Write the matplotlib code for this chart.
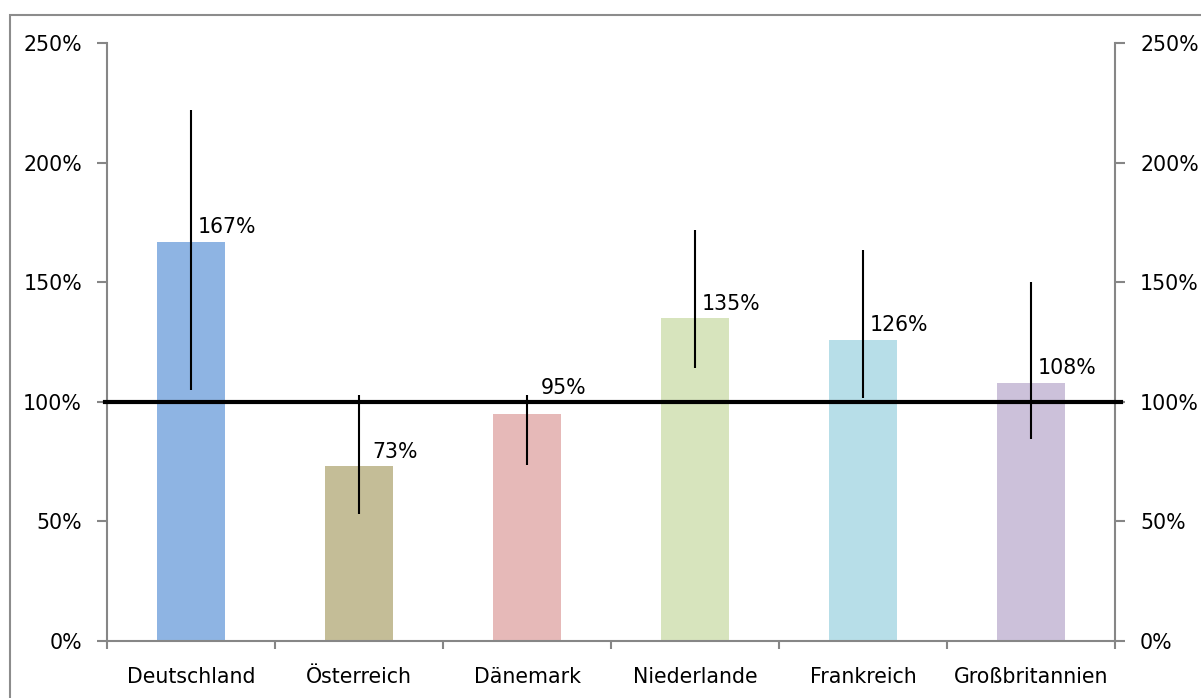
import matplotlib
matplotlib.use("Agg")
import matplotlib.pyplot as plt
from matplotlib.patches import Rectangle
from matplotlib.ticker import FixedLocator, PercentFormatter

# data
laender = ["Deutschland", "Österreich", "Dänemark", "Niederlande", "Frankreich", "Großbritannien"]
werte = [1.67, 0.73, 0.95, 1.35, 1.26, 1.08]
fehler_unten = [1.05, 0.53, 0.735, 1.14, 1.015, 0.843]
fehler_oben = [2.22, 1.03, 1.028, 1.718, 1.635, 1.502]
farben = ["#8EB4E3", "#C4BD97", "#E6B9B8", "#D7E4BD", "#B7DEE8", "#CCC1DA"]
y_ticks = [0, 0.5, 1.0, 1.5, 2.0, 2.5]
referenz = 1.0

plt.rcParams['font.family'] = ['DejaVu Sans']
grau = "#868686"
fs = 14.8

fig = plt.figure(figsize=(12.01, 6.98), dpi=100)
ax = fig.add_axes([0.0891, 0.0817, 0.8393, 0.8567])

x = list(range(len(laender)))
ax.bar(x, werte, width=0.41, color=farben, zorder=2)

# error bars (no caps)
err = [[w - lo for w, lo in zip(werte, fehler_unten)],
       [hi - w for w, hi in zip(werte, fehler_oben)]]
ax.errorbar(x, werte, yerr=err, fmt="none", ecolor="black", elinewidth=1.5, capsize=0, zorder=4)

# reference line at 100%
ax.axhline(referenz, xmin=-0.002, xmax=1.006, color="black", lw=3, clip_on=False, zorder=3)

# value labels - lifted above the 100% line when the bar ends just under it
for i, w in enumerate(werte):
    anker = referenz if (w < referenz and referenz - w < 0.1) else w
    ax.annotate(f"{w*100:.0f}%", xy=(i, anker), xytext=(26, 3), textcoords="offset points",
                ha="center", va="bottom", fontsize=fs, zorder=5)

ax.set_xlim(-0.5, len(laender) - 0.5)
ax.set_ylim(0, 2.5)
ax.set_yticks(y_ticks)
ax.yaxis.set_major_formatter(PercentFormatter(1.0, decimals=0))

ax.set_xticks(x)
ax.set_xticklabels(laender, fontsize=fs)
ax.xaxis.set_minor_locator(FixedLocator([i - 0.5 for i in range(len(laender) + 1)]))
ax.tick_params(axis="x", which="major", length=0, pad=19)
ax.tick_params(axis="x", which="minor", length=6, width=1.5, color=grau)
ax.tick_params(axis="y", length=7, width=1.5, color=grau, labelsize=fs, pad=11,
               right=True, labelright=True)

for side in ["left", "right", "bottom"]:
    ax.spines[side].set_color(grau)
    ax.spines[side].set_linewidth(1.5)
ax.spines["top"].set_visible(False)

# outer chart frame
fig.patches.append(Rectangle((0.0083, -0.1), 1.2, 1.0785, transform=fig.transFigure,
                             fill=False, edgecolor="#8c8c8c", lw=1.5))

fig.savefig("out.png", dpi=100)
